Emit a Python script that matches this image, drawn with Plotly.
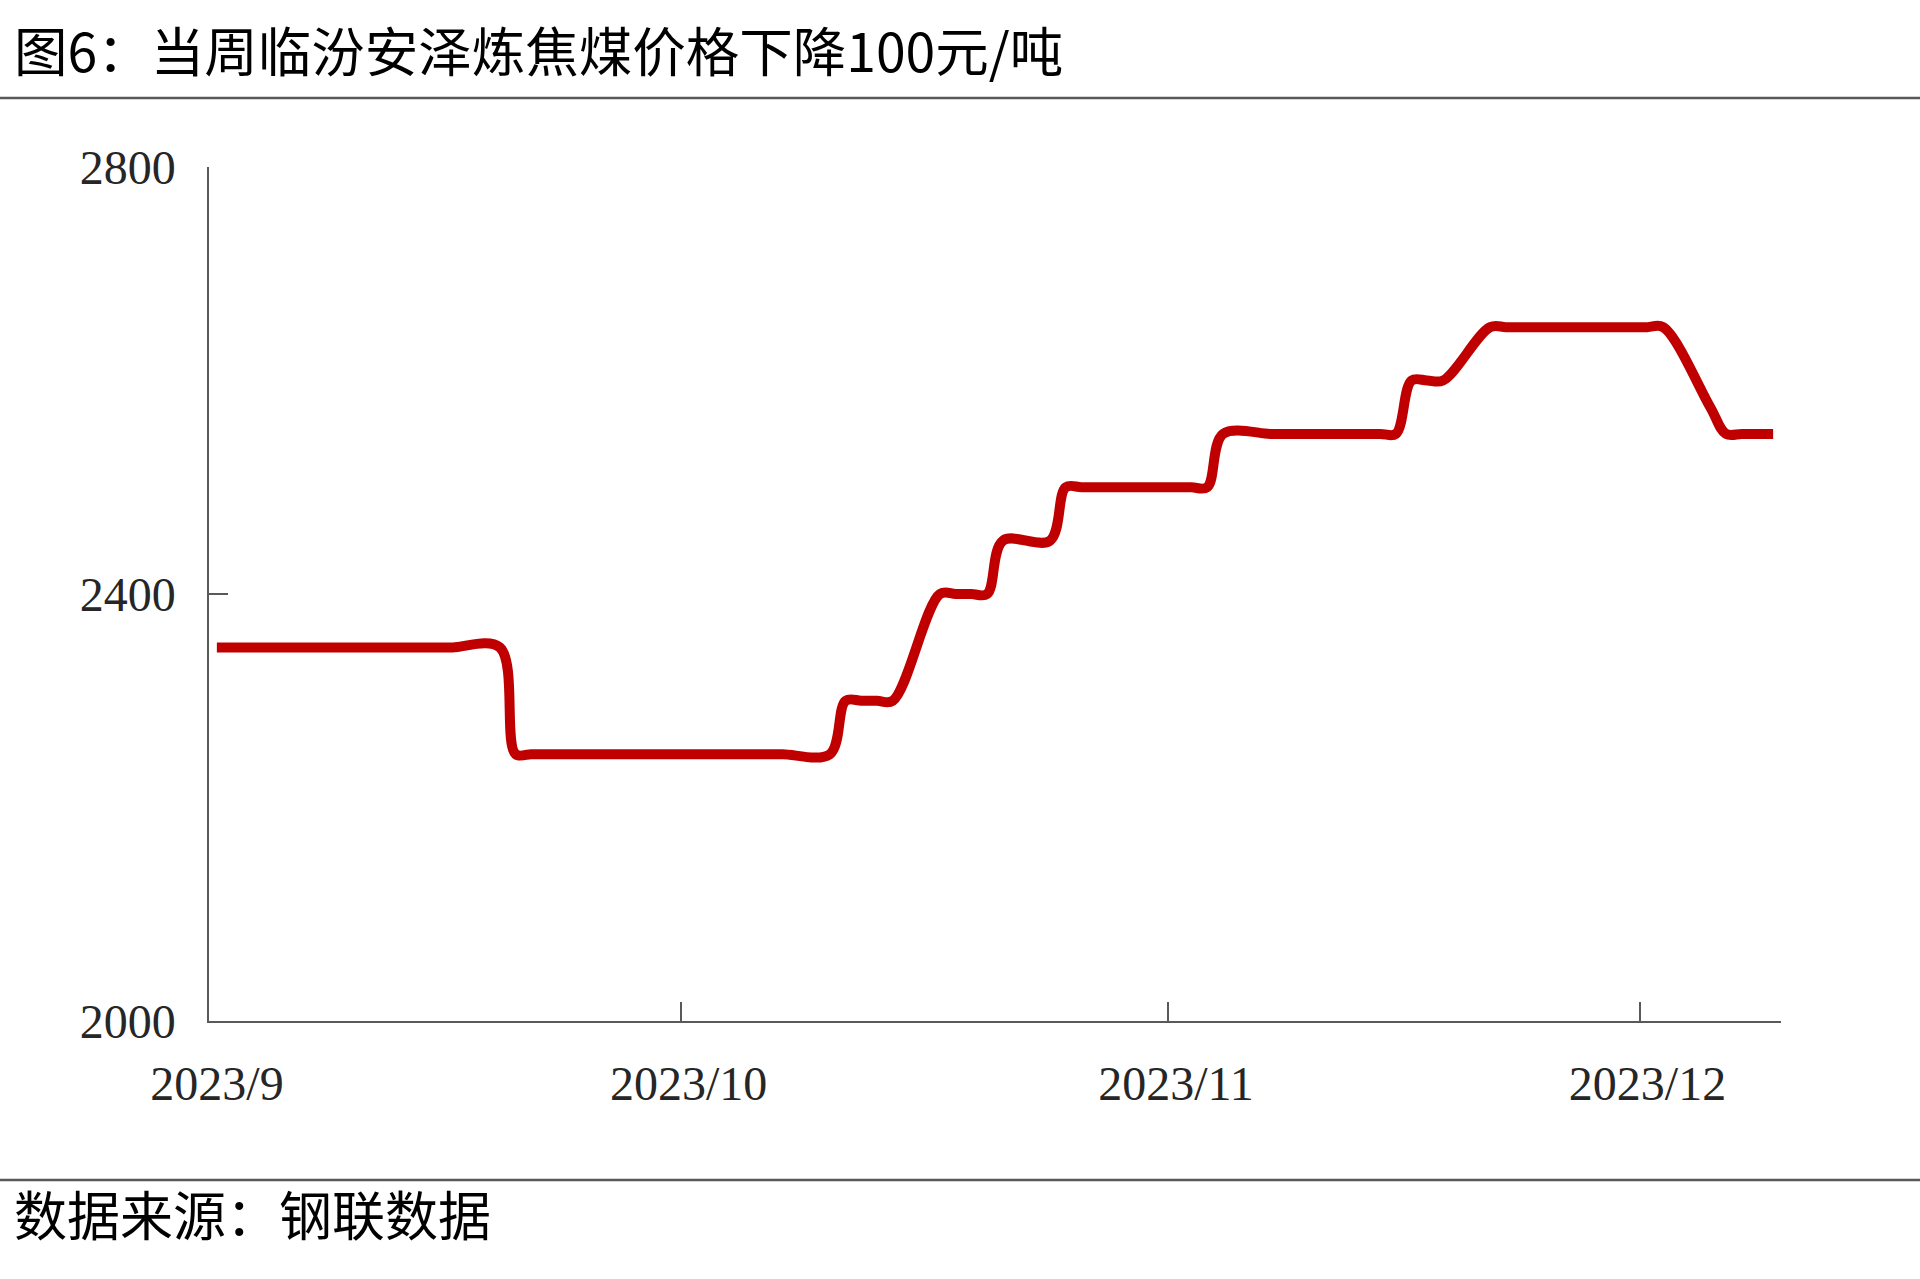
import pandas as pd
import plotly.graph_objects as go

# ---- data ----
dates = [
    "2023-09-01", "2023-09-02", "2023-09-05", "2023-09-06", "2023-09-07", "2023-09-08", "2023-09-09",
    "2023-09-12", "2023-09-13", "2023-09-14", "2023-09-15", "2023-09-16",
    "2023-09-19", "2023-09-20", "2023-09-21", "2023-09-22", "2023-09-23",
    "2023-09-26", "2023-09-27", "2023-09-28", "2023-09-29", "2023-09-30",
    "2023-10-03", "2023-10-04", "2023-10-05", "2023-10-06", "2023-10-07",
    "2023-10-10", "2023-10-11", "2023-10-12", "2023-10-13", "2023-10-14",
    "2023-10-17", "2023-10-18", "2023-10-19", "2023-10-20", "2023-10-21",
    "2023-10-24", "2023-10-25", "2023-10-26", "2023-10-27", "2023-10-28",
    "2023-10-31", "2023-11-01", "2023-11-02", "2023-11-03", "2023-11-04",
    "2023-11-07", "2023-11-08", "2023-11-09", "2023-11-10", "2023-11-11",
    "2023-11-14", "2023-11-15", "2023-11-16", "2023-11-17", "2023-11-18",
    "2023-11-21", "2023-11-22", "2023-11-23", "2023-11-24", "2023-11-25",
    "2023-11-28", "2023-11-29", "2023-11-30", "2023-12-01", "2023-12-02",
    "2023-12-05", "2023-12-06", "2023-12-07", "2023-12-08", "2023-12-09",
]
prices = [
    2350, 2350, 2350, 2350, 2350, 2350, 2350,
    2350, 2350, 2350, 2350, 2350,
    2350, 2250, 2250, 2250, 2250,
    2250, 2250, 2250, 2250, 2250,
    2250, 2250, 2250, 2250, 2250,
    2250, 2300, 2300, 2300, 2300,
    2400, 2400, 2400, 2400, 2450,
    2450, 2500, 2500, 2500, 2500,
    2500, 2500, 2500, 2500, 2550,
    2550, 2550, 2550, 2550, 2550,
    2550, 2550, 2600, 2600, 2600,
    2650, 2650, 2650, 2650, 2650,
    2650, 2650, 2650, 2650, 2650,
    2575, 2550, 2550, 2550, 2550,
]
tick_dates = ["2023-09-01", "2023-10-01", "2023-11-01", "2023-12-01"]
tick_labels = ["2023/9", "2023/10", "2023/11", "2023/12"]
y_ticks = [2000, 2400, 2800]

title_text = "图6：当周临汾安泽炼焦煤价格下降100元/吨"
source_text = "数据来源：钢联数据"

# ---- layout constants ----
W, H = 1920, 1279
L, R, T, B = 209, 139, 167, 258
PW, PH = W - L - R, H - T - B


def px_x(p):
    return (p - L) / PW


def px_y(p):
    return (H - B - p) / PH


# Excel date axis: each point sits in the middle of its day
x_vals = [pd.Timestamp(d) + pd.Timedelta(hours=12) for d in dates]

axis_col = "#595959"
text_col = "#262626"
cjk = "Noto Sans CJK SC"
serif = "Liberation Serif, Times New Roman, serif"

fig = go.Figure()
fig.add_trace(go.Scatter(
    x=x_vals, y=prices, mode="lines",
    line=dict(color="#C00000", width=10, shape="spline", smoothing=1.0),
    hoverinfo="x+y", showlegend=False,
))

fig.update_layout(
    width=W, height=H,
    margin=dict(l=L, r=R, t=T, b=B, pad=0),
    paper_bgcolor="white", plot_bgcolor="white",
    showlegend=False,
    title=dict(
        text=title_text, x=14 / W, y=1 - 53 / H, xref="container", yref="container",
        xanchor="left", yanchor="middle",
        font=dict(family=cjk, size=53.5, color="#000000"),
    ),
    xaxis=dict(
        type="date", range=["2023-09-01", "2023-12-10"],
        tickmode="array", tickvals=tick_dates, ticktext=tick_labels,
        ticks="inside", ticklen=19, tickwidth=1.5, tickcolor=axis_col,
        showline=True, linecolor=axis_col, linewidth=1.5,
        showgrid=False, zeroline=False,
        tickfont=dict(family=serif, size=48, color=text_col),
        ticklabelshift=8, ticklabelstandoff=20,
    ),
    yaxis=dict(
        range=[2000, 2800], tickmode="array", tickvals=y_ticks,
        ticks="inside", ticklen=19, tickwidth=1.5, tickcolor=axis_col,
        showline=True, linecolor=axis_col, linewidth=1.5,
        showgrid=False, zeroline=False,
        tickfont=dict(family=serif, size=48, color=text_col),
        ticklabelstandoff=22,
    ),
    annotations=[dict(
        text=source_text, xref="paper", yref="paper",
        x=px_x(12), y=px_y(1213), xanchor="left", yanchor="middle",
        showarrow=False, font=dict(family=cjk, size=53, color="#000000"),
    )],
    shapes=[
        dict(type="line", xref="paper", yref="paper", x0=px_x(0), x1=px_x(W),
             y0=px_y(98), y1=px_y(98), line=dict(color=axis_col, width=2.5)),
        dict(type="line", xref="paper", yref="paper", x0=px_x(0), x1=px_x(W),
             y0=px_y(1180), y1=px_y(1180), line=dict(color=axis_col, width=2.5)),
    ],
)

fig.write_html("out.html", config={"displayModeBar": False},
               post_script="document.body.style.margin='0';")
